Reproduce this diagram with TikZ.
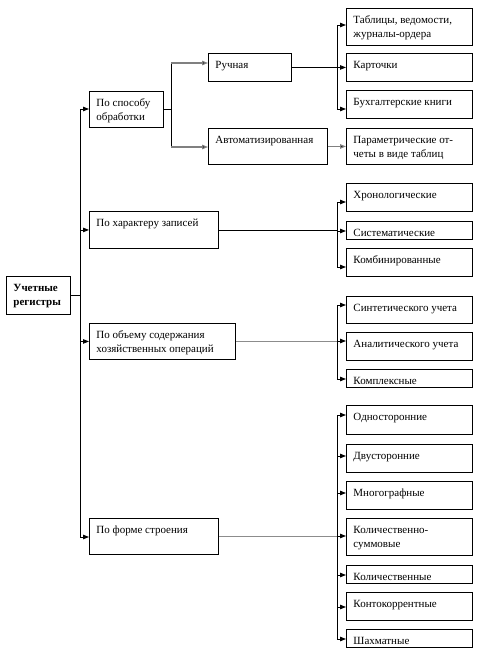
\documentclass[tikz,border=0pt]{standalone}
\usepackage{fontspec}
\setmainfont{Liberation Serif}
\usetikzlibrary{arrows.meta}
\newcommand{\bxt}[3]{\parbox[b][#2pt][t]{#1pt}{\fontsize{11}{14}\selectfont\raggedright\leftskip=7pt\relax\rule{0pt}{15pt}#3}}
\tikzset{
  box/.style={draw, line width=0.9pt, inner sep=0pt, anchor=north west},
  ln/.style={line width=0.9pt},
  gln/.style={line width=1.2pt, draw=black!45},
  arr/.style={line width=0.9pt, -{Triangle[length=6pt,width=4.5pt]}},
  garr/.style={line width=1.1pt, draw=black!50, -{Triangle[length=6pt,width=4.5pt,fill=black]}},
}
\begin{document}
\begin{tikzpicture}[x=1pt,y=-1pt]
\useasboundingbox (0,0) rectangle (478,653);
% root
\node[box] (root) at (6,276) {\bxt{64}{38}{\textbf{Учетные}\\\textbf{регистры}}};
% level 1
\node[box] (sp) at (89,91) {\bxt{74}{36}{По способу\\обработки}};
\node[box] (xa) at (89,211) {\bxt{129}{37}{По характеру записей}};
\node[box] (ob) at (89,323) {\bxt{146}{36}{По объему содержания\\хозяйственных операций}};
\node[box] (fo) at (89,518) {\bxt{129}{36}{По форме строения}};
% level 2
\node[box] (ruch) at (208,53) {\bxt{83}{28}{Ручная}};
\node[box] (avto) at (208,128) {\bxt{119}{36}{Автоматизированная}};
% level 3
\node[box] (tab) at (346,8) {\bxt{126}{37}{Таблицы, ведомости,\\журналы-ордера}};
\node[box] (kart) at (346,53) {\bxt{126}{28}{Карточки}};
\node[box] (kn) at (346,90) {\bxt{126}{28}{Бухгалтерские книги}};
\node[box] (par) at (346,128) {\bxt{126}{36}{Параметрические от-\\четы в виде таблиц}};
\node[box] (hr) at (346,183) {\bxt{126}{28}{Хронологические}};
\node[box] (sis) at (346,221) {\bxt{126}{18}{Систематические}};
\node[box] (kom) at (346,248) {\bxt{126}{28}{Комбинированные}};
\node[box] (sin) at (346,296) {\bxt{126}{27}{Синтетического учета}};
\node[box] (an) at (346,332) {\bxt{126}{28}{Аналитического учета}};
\node[box] (kp) at (346,369) {\bxt{126}{18}{Комплексные}};
\node[box] (od) at (346,405) {\bxt{126}{29}{Односторонние}};
\node[box] (dv) at (346,444) {\bxt{126}{28}{Двусторонние}};
\node[box] (mn) at (346,481) {\bxt{126}{28}{Многографные}};
\node[box] (ks) at (346,518) {\bxt{126}{37}{Количественно-\\суммовые}};
\node[box] (kl) at (346,565) {\bxt{126}{18}{Количественные}};
\node[box] (kk) at (346,592) {\bxt{126}{28}{Контокоррентные}};
\node[box] (sh) at (346,629) {\bxt{126}{18}{Шахматные}};
% trunk
\coordinate (t1) at (80,109);
\coordinate (t4) at (80,537);
\draw[ln] (t1) -- (t4);
\draw[ln] (root.east) -- (root.east -| t1);
\draw[arr] (t1) -- (sp.west |- t1);
\draw[arr] (xa.west -| t1) -- (xa.west);
\draw[arr] (ob.west -| t1) -- (ob.west);
\draw[arr] (t4) -- (fo.west |- t4);
% group 1
\coordinate (b1a) at (171,63);
\coordinate (b1b) at (171,147);
\draw[ln] (sp.east) -- (sp.east -| b1a);
\draw[ln] (b1a) -- (b1b);
\draw[garr] (b1a) -- (ruch.west |- b1a);
\draw[garr] (b1b) -- (avto.west |- b1b);
\coordinate (r1a) at (337,25);
\coordinate (r1b) at (337,109);
\draw[ln] (ruch.east) -- (ruch.east -| r1a);
\draw[ln] (r1a) -- (r1b);
\draw[arr] (r1a) -- (tab.west |- r1a);
\draw[arr] (kart.west -| r1a) -- (kart.west);
\draw[arr] (r1b) -- (kn.west |- r1b);
\draw[garr] (avto.east) -- (par.west |- avto.east);
% group 2
\coordinate (r2a) at (337,202);
\coordinate (r2b) at (337,231);
\coordinate (r2c) at (337,267);
\draw[ln] (xa.east) -- (xa.east -| r2a);
\draw[ln] (r2a) -- (r2c);
\draw[arr] (r2a) -- (hr.west |- r2a);
\draw[arr] (r2b) -- (sis.west |- r2b);
\draw[arr] (r2c) -- (kom.west |- r2c);
% group 3
\coordinate (r3a) at (337,305);
\coordinate (r3b) at (337,341);
\coordinate (r3c) at (337,379);
\draw[gln] (ob.east) -- (ob.east -| r3a);
\draw[ln] (r3a) -- (r3c);
\draw[arr] (r3a) -- (sin.west |- r3a);
\draw[arr] (r3b) -- (an.west |- r3b);
\draw[arr] (r3c) -- (kp.west |- r3c);
% group 4
\coordinate (r4a) at (337,415);
\coordinate (r4b) at (337,456);
\coordinate (r4c) at (337,493);
\coordinate (r4d) at (337,536);
\coordinate (r4e) at (337,575);
\coordinate (r4f) at (337,607);
\coordinate (r4g) at (337,639);
\draw[gln] (fo.east) -- (fo.east -| r4a);
\draw[ln] (r4a) -- (r4g);
\draw[arr] (r4a) -- (od.west |- r4a);
\draw[arr] (r4b) -- (dv.west |- r4b);
\draw[arr] (r4c) -- (mn.west |- r4c);
\draw[arr] (r4d) -- (ks.west |- r4d);
\draw[arr] (r4e) -- (kl.west |- r4e);
\draw[arr] (r4f) -- (kk.west |- r4f);
\draw[arr] (r4g) -- (sh.west |- r4g);
\end{tikzpicture}
\end{document}
